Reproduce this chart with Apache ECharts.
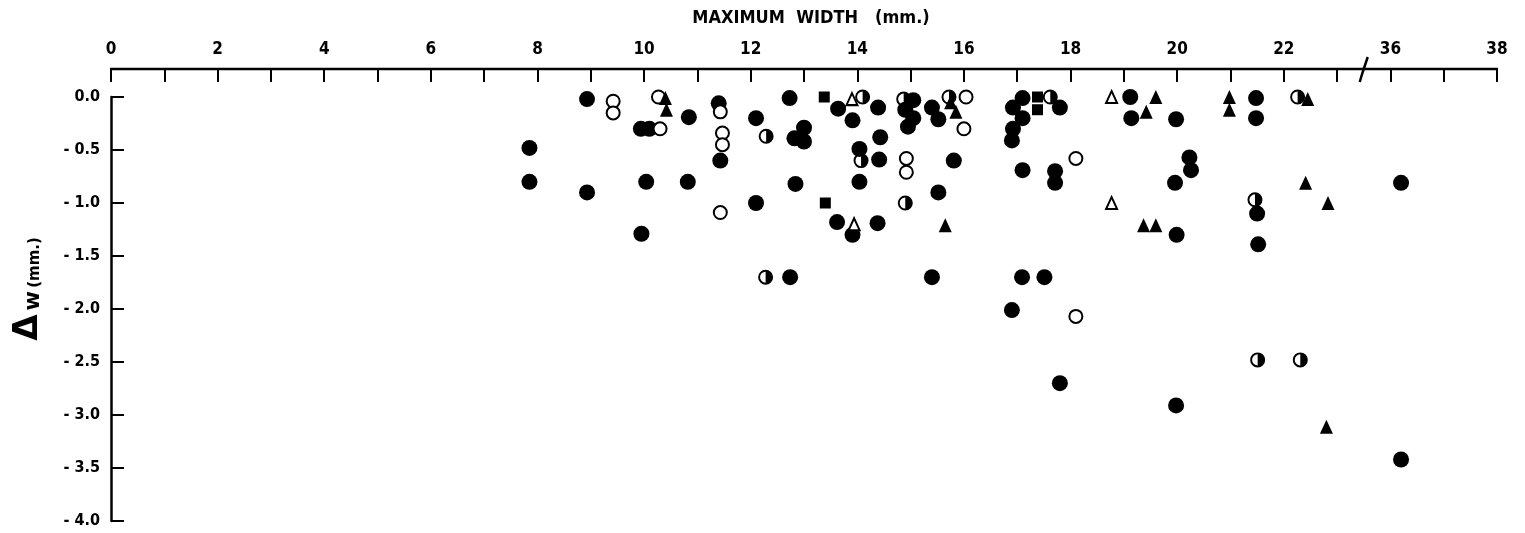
<!DOCTYPE html>
<html>
<head>
<meta charset="utf-8">
<script src="https://cdn.jsdelivr.net/npm/echarts@6/dist/echarts.min.js"></script>
<style>
  html, body { margin: 0; padding: 0; background: #fff; }
  #chart { width: 1525px; height: 533px; }
</style>
</head>
<body>
<div id="chart"></div>
<script>
// Maximum width (mm) against the change in width, Δw (mm); one list per marker type.
const filledCircles = [
  [7.85, -0.48], [7.85, -0.8], [8.93, -0.02], [8.93, -0.9], [9.94, -0.3], [10.1, -0.3],
  [10.84, -0.19], [11.4, -0.06], [11.43, -0.6], [10.04, -0.8], [10.82, -0.8], [12.1, -1.0],
  [9.95, -1.29], [12.1, -0.2], [12.73, -0.01], [13.64, -0.11], [14.39, -0.1], [13.91, -0.22],
  [13.0, -0.29], [12.82, -0.39], [13.0, -0.42], [14.43, -0.38], [14.04, -0.49], [14.41, -0.59],
  [15.81, -0.6], [12.84, -0.82], [14.04, -0.8], [15.52, -0.9], [13.62, -1.18], [13.91, -1.3],
  [14.38, -1.19], [15.05, -0.03], [14.9, -0.12], [15.05, -0.2], [14.95, -0.28], [15.4, -0.1],
  [15.52, -0.21], [17.1, -0.01], [16.92, -0.1], [17.1, -0.2], [16.92, -0.3], [16.9, -0.41],
  [17.8, -0.1], [17.1, -0.69], [17.71, -0.7], [17.71, -0.81], [19.12, 0.0], [19.14, -0.2],
  [19.98, -0.21], [20.23, -0.57], [20.26, -0.69], [19.96, -0.81], [19.99, -1.3], [21.48, -0.01],
  [21.48, -0.2], [21.5, -1.1], [21.52, -1.39], [12.74, -1.7], [15.4, -1.7], [17.09, -1.7],
  [17.51, -1.7], [16.9, -2.01], [17.8, -2.7], [19.98, -2.91], [36.2, -0.81], [36.2, -3.42]
];
const openCircles = [
  [9.42, -0.04], [9.42, -0.15], [10.27, 0.0], [10.3, -0.3], [11.43, -0.14], [11.47, -0.34],
  [11.47, -0.45], [11.43, -1.09], [14.92, -0.58], [14.92, -0.71], [16.04, 0.0], [16.0, -0.3],
  [18.1, -0.58], [18.1, -2.07]
];
const halfCircles = [
  [12.29, -0.37], [14.1, 0.0], [14.07, -0.6], [14.9, -1.0], [14.87, -0.02], [15.72, 0.0],
  [17.62, 0.0], [22.26, 0.0], [21.46, -0.97], [12.28, -1.7], [21.51, -2.48], [22.31, -2.48]
];
const filledTriangles = [
  [10.4, -0.01], [10.42, -0.12], [15.65, -1.21], [15.75, -0.05], [15.85, -0.14], [19.6, 0.0],
  [19.42, -0.14], [19.37, -1.21], [19.6, -1.21], [20.98, 0.0], [20.98, -0.12], [22.45, -0.02],
  [22.41, -0.81], [22.83, -1.0], [22.8, -3.11]
];
const openTriangles = [
  [13.9, -0.02], [13.94, -1.2], [18.77, 0.0], [18.77, -1.0]
];
const filledSquares = [
  [13.38, 0.0], [13.4, -1.0], [17.38, 0.0], [17.38, -0.12]
];

// Width axis runs 0–23, then jumps to 36–38.
const widthBreak = { start: 23, end: 36 };
const widthRange = { min: 0, max: 38 };

const INK = '#000';
const GRID_TOP = 97;
const X_OFFSET = 28;
const tickFont = {
  fontFamily: 'DejaVu Sans Condensed',
  fontWeight: 'bold',
  color: INK
};

// Ring with its right half filled in.
const HALF_DISC = 'path://M10,0A10,10,0,1,1,10,20A10,10,0,1,1,10,0Z' +
  'M10,2.6A7.4,7.4,0,1,0,10,17.4A7.4,7.4,0,1,0,10,2.6Z' +
  'M10,2.6A7.4,7.4,0,0,1,10,17.4Z';

function scatter(name, data, symbol, size, itemStyle, z) {
  return {
    name, type: 'scatter', data, symbol, symbolSize: size,
    itemStyle: Object.assign({ opacity: 1 }, itemStyle),
    z, silent: true, animation: false
  };
}

const chart = echarts.init(document.getElementById('chart'), null, { renderer: 'canvas' });

chart.setOption({
  backgroundColor: '#fff',
  animation: false,
  grid: { left: 111, right: 28, top: GRID_TOP, bottom: 12, outerBoundsMode: 'none' },
  xAxis: {
    type: 'value',
    position: 'top',
    offset: X_OFFSET,
    min: widthRange.min,
    max: widthRange.max,
    interval: 1,
    breaks: [{ start: widthBreak.start, end: widthBreak.end, gap: 1 }],
    breakArea: { show: false, expandOnClick: false },
    name: 'MAXIMUM  WIDTH   (mm.)',
    nameLocation: 'middle',
    nameGap: 42,
    nameTextStyle: {
      fontFamily: 'DejaVu Sans Condensed', fontWeight: 'bold', fontSize: 18, color: INK,
      padding: [0, 0, 0, 14]
    },
    // drawn below as one unbroken line
    axisLine: { show: false, onZero: false },
    axisTick: { show: true, inside: true, length: 13, lineStyle: { color: INK, width: 2 } },
    axisLabel: Object.assign({
      margin: 11,
      fontSize: 17,
      formatter: v => (Math.abs(v % 2) < 1e-9 ? String(v) : '')
    }, tickFont),
    splitLine: { show: false }
  },
  yAxis: {
    type: 'value',
    min: -4,
    max: 0,
    interval: 0.5,
    name: '{d|Δ}{w|w} {m|(mm.)}',
    nameLocation: 'middle',
    nameRotate: 90,
    nameGap: 66,
    nameTextStyle: {
      padding: [0, 0, 0, 40],
      rich: {
        d: { fontFamily: 'DejaVu Sans', fontWeight: 'bold', fontSize: 34, color: INK, verticalAlign: 'bottom' },
        w: { fontFamily: 'DejaVu Sans', fontWeight: 'bold', fontSize: 21, color: INK, verticalAlign: 'bottom', padding: [0, 0, 1, 4] },
        m: { fontFamily: 'DejaVu Sans', fontWeight: 'bold', fontSize: 15, color: INK, verticalAlign: 'bottom', padding: [0, 0, 2, 0] }
      }
    },
    axisLine: { show: true, onZero: false, lineStyle: { color: INK, width: 2.5 } },
    axisTick: { show: true, inside: true, length: 13, lineStyle: { color: INK, width: 2 } },
    axisLabel: Object.assign({
      margin: 11,
      fontSize: 16,
      formatter: v => (v === 0 ? '0.0' : '- ' + Math.abs(v).toFixed(1))
    }, tickFont),
    splitLine: { show: false }
  },
  series: [
    scatter('filled circle', filledCircles, 'circle', 16, { color: INK }, 2),
    scatter('half circle', halfCircles, HALF_DISC, 15, { color: INK }, 3),
    scatter('open circle', openCircles, 'circle', 13,
      { color: '#fff', borderColor: INK, borderWidth: 2 }, 4),
    scatter('square', filledSquares, 'rect', 11, { color: INK }, 5),
    scatter('filled triangle', filledTriangles, 'triangle', [13, 14], { color: INK }, 6),
    scatter('open triangle', openTriangles, 'triangle', [11, 12],
      { color: '#fff', borderColor: INK, borderWidth: 2 }, 7)
  ]
});

// Width axis line, straight through the break, with a slanted mark half way across the break.
const px = v => chart.convertToPixel({ xAxisIndex: 0 }, v);
const x0 = px(widthRange.min);
const x1 = px(widthRange.max);
const cx = (px(widthBreak.start) + px(widthBreak.end)) / 2;
const cy = GRID_TOP - X_OFFSET;
chart.setOption({
  graphic: [
    {
      type: 'line',
      silent: true,
      z: 99,
      shape: { x1: x0 - 1, y1: cy, x2: x1 + 1, y2: cy },
      style: { stroke: INK, lineWidth: 2.5 }
    },
    {
      type: 'polyline',
      silent: true,
      z: 100,
      shape: { points: [[cx - 4, cy + 13], [cx - 1, cy + 3], [cx + 1, cy - 3], [cx + 4, cy - 12]] },
      style: { stroke: INK, lineWidth: 2.5, fill: null }
    }
  ]
});
</script>
</body>
</html>
